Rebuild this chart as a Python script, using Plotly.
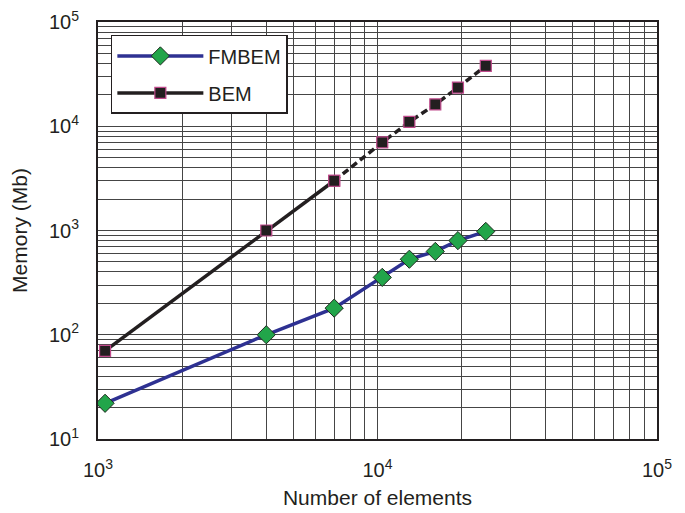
import plotly.graph_objects as go

# ---- data ----
n_elements = [1060, 4000, 7000, 10400, 13000, 16100, 19400, 24400]
fmbem_mem = [22, 100, 180, 355, 530, 630, 800, 980]
bem_mem = [70, 1000, 3000, 7000, 11000, 16200, 23500, 38000]
bem_solid_count = 3  # BEM drawn solid up to 7000 elements, dashed after

x_tick_vals = [1e3, 1e4, 1e5]
x_tick_text = ["10<sup>3</sup>", "10<sup>4</sup>", "10<sup>5</sup>"]
y_tick_vals = [1e1, 1e2, 1e3, 1e4, 1e5]
y_tick_text = ["10<sup>1</sup>", "10<sup>2</sup>", "10<sup>3</sup>", "10<sup>4</sup>", "10<sup>5</sup>"]

TXT = "#231f20"
FONT = "Liberation Sans, Arial, sans-serif"
GRID = "#454545"

x_minor = [k * 10 ** e for e in (3, 4) for k in range(2, 10)]
y_minor = [k * 10 ** e for e in (1, 2, 3, 4) for k in range(2, 10)]

fig = go.Figure()

fig.add_trace(go.Scatter(
    x=n_elements, y=fmbem_mem, name="FMBEM", mode="lines+markers",
    legendgroup="a",
    line=dict(color="#2e3192", width=3.5),
    marker=dict(symbol="diamond", size=14, color="#22a54a",
                line=dict(color="#1f2a1f", width=1)),
))

fig.add_trace(go.Scatter(
    x=n_elements[bem_solid_count - 1:], y=bem_mem[bem_solid_count - 1:],
    name="BEM", mode="lines+markers", showlegend=False, legendgroup="b",
    line=dict(color=TXT, width=3.5, dash="7px,4px"),
    marker=dict(symbol="square", size=11, color=TXT,
                line=dict(color="#c04a8c", width=1.2)),
))

fig.add_trace(go.Scatter(
    x=n_elements[:bem_solid_count], y=bem_mem[:bem_solid_count],
    name="BEM", mode="lines+markers", legendgroup="b",
    line=dict(color=TXT, width=3.5),
    marker=dict(symbol="square", size=11, color=TXT,
                line=dict(color="#c04a8c", width=1.2)),
))

axis_common = dict(
    type="log", showline=True, linecolor=TXT, linewidth=2, mirror=True,
    showgrid=True, gridcolor=GRID, gridwidth=1, zeroline=False,
    ticks="", tickfont=dict(size=20, color=TXT, family=FONT),
    automargin=False, ticklabeloverflow="allow",
)

fig.update_xaxes(
    **axis_common, range=[3, 5], tickmode="array",
    tickvals=x_tick_vals, ticktext=x_tick_text, ticklabelstandoff=12,
    minor=dict(tickmode="array", tickvals=x_minor, showgrid=True,
               gridcolor=GRID, gridwidth=1, ticks=""),
    title=dict(text="Number of elements", font=dict(size=21, color=TXT, family=FONT),
               standoff=10),
)
fig.update_yaxes(
    **axis_common, range=[1, 5], tickmode="array",
    tickvals=y_tick_vals, ticktext=y_tick_text, ticklabelstandoff=13,
    minor=dict(tickmode="array", tickvals=y_minor, showgrid=True,
               gridcolor=GRID, gridwidth=1, ticks=""),
    title=dict(text="Memory (Mb)", font=dict(size=21, color=TXT, family=FONT),
               standoff=17),
)

# page body has an 8px offset, so margins are compensated
fig.update_layout(
    width=685, height=513,
    margin=dict(l=90, r=36, t=14, b=82),
    paper_bgcolor="white", plot_bgcolor="white",
    font=dict(family=FONT, color=TXT),
    legend=dict(
        x=0.023, y=0.969, xanchor="left", yanchor="top",
        bgcolor="white", bordercolor=TXT, borderwidth=1.5,
        font=dict(size=20, color=TXT, family=FONT),
        traceorder="grouped", tracegroupgap=8, itemwidth=86,
    ),
    showlegend=True,
)

fig.write_html("out.html")
